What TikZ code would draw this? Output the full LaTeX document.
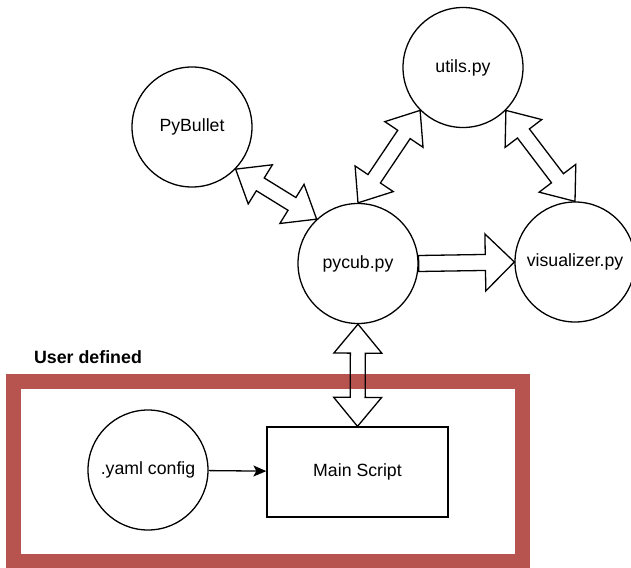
\documentclass[tikz,border=0pt]{standalone}
\usepackage{fontspec}
\setmainfont{Liberation Sans}
\usetikzlibrary{calc,arrows.meta}
\definecolor{framered}{HTML}{B85450}
\newcommand\dblflex[5]{%
  \coordinate (fa) at (#1); \coordinate (fb) at (#2);
  \coordinate (ha) at ($(fa)!#5!(fb)$);
  \coordinate (hb) at ($(fb)!#5!(fa)$);
  \draw[flexline] (fa) -- ($(ha)!#4!90:(fb)$) -- ($(ha)!#3!90:(fb)$) -- ($(hb)!#3!-90:(fa)$) -- ($(hb)!#4!-90:(fa)$) -- (fb) -- ($(hb)!#4!90:(fa)$) -- ($(hb)!#3!90:(fa)$) -- ($(ha)!#3!-90:(fb)$) -- ($(ha)!#4!-90:(fb)$) -- cycle;
}
\newcommand\oneflex[5]{%
  \coordinate (fa) at (#1); \coordinate (fb) at (#2);
  \coordinate (hb) at ($(fb)!#5!(fa)$);
  \draw[flexline] ($(fa)!#3!90:(fb)$) -- ($(hb)!#3!-90:(fa)$) -- ($(hb)!#4!-90:(fa)$) -- (fb) -- ($(hb)!#4!90:(fa)$) -- ($(hb)!#3!90:(fa)$) -- ($(fa)!#3!-90:(fb)$) -- cycle;
}
\begin{document}
\begin{tikzpicture}[x=1pt,y=-1pt,
  modcircle/.style={draw, circle, line width=1.3pt, minimum size=120pt, inner sep=0pt, font=\fontsize{17.7}{20}\selectfont},
  scriptbox/.style={draw, rectangle, line width=1.3pt, minimum width=181pt, minimum height=90pt, inner sep=0pt, font=\fontsize{17.7}{20}\selectfont},
  flexline/.style={draw, line width=1.3pt, line join=miter},
  framebox/.style={draw=framered, line width=15pt},
  plainarrow/.style={line width=1.3pt, -{Stealth[length=13pt,width=11pt,inset=3pt]}}]
\useasboundingbox (0,0) rectangle (631,567);
\draw[framebox] (13.5,381.5) rectangle (522.5,561.5);
\node[font=\fontsize{17.8}{20}\selectfont\bfseries] (userlabel) at (88,357) {User defined};
\node[modcircle] (utils) at (463,67.5) {utils.py};
\node[modcircle] (pybullet) at (192,127) {PyBullet};
\node[modcircle] (pycub) at (358,263.5) {pycub.py};
\node[modcircle] (visualizer) at (575,262) {visualizer.py};
\node[modcircle] (yaml) at (148,470) {.yaml config};
\node[scriptbox] (main) at (357.5,472) {Main Script};
\dblflex{pybullet.-44}{pycub.133}{7.5pt}{23pt}{29pt}
\dblflex{utils.225}{pycub.90}{7.5pt}{23pt}{29pt}
\dblflex{utils.-45}{visualizer.90}{7.5pt}{23pt}{29pt}
\oneflex{pycub.0}{visualizer.180}{8pt}{28.5pt}{29pt}
\dblflex{pycub.270}{main.north}{7.5pt}{24pt}{29pt}
\draw[plainarrow] (yaml) -- (main);
\end{tikzpicture}
\end{document}
